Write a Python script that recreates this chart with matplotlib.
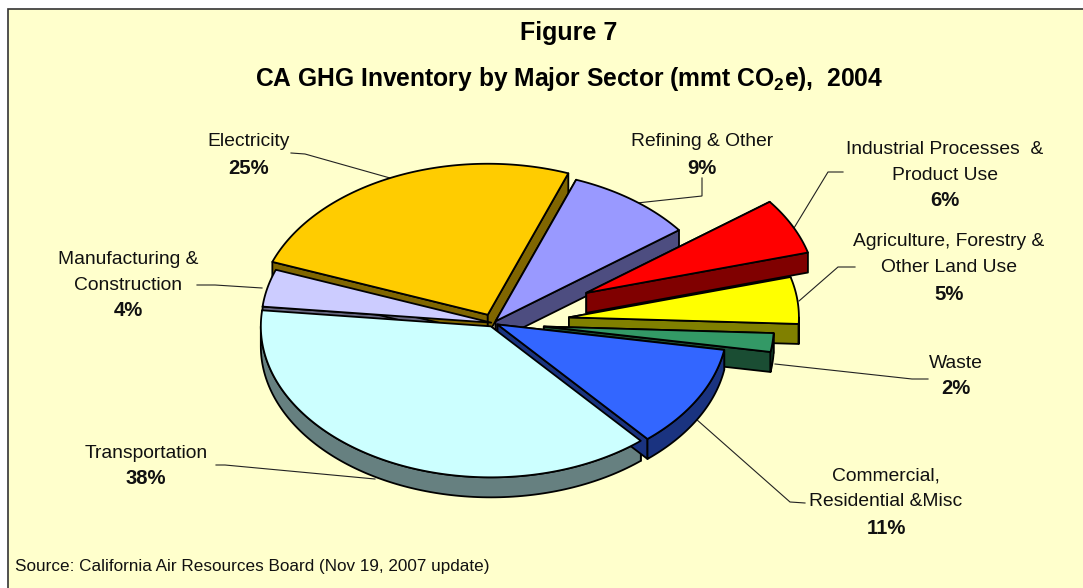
import numpy as np
import matplotlib
matplotlib.use("Agg")
import matplotlib.pyplot as plt
from matplotlib.patches import Polygon, Rectangle

plt.rcParams['font.family'] = ['Liberation Sans', 'DejaVu Sans']
plt.rcParams['mathtext.fontset'] = 'custom'
plt.rcParams['mathtext.rm'] = 'Liberation Sans'
plt.rcParams['mathtext.bf'] = 'Liberation Sans:bold'

# data (clockwise from the start angle)
sectors = ["Refining & Other", "Industrial Processes  &\nProduct Use", "Agriculture, Forestry &\nOther Land Use",
           "Waste", "Commercial,\nResidential &Misc", "Transportation", "Manufacturing &\nConstruction", "Electricity"]
shares = [9, 6, 5, 2, 11, 38, 4, 25]

# style
explode = [0.015, 0.45, 0.33, 0.22, 0.02, 0.025, 0.01, 0.06]
top_colors = ["#9999FF", "#FF0000", "#FFFF00", "#339966", "#3366FF", "#CCFFFF", "#CCCCFF", "#FFCC00"]
side_colors = ["#4D4D80", "#800000", "#808000", "#1A4D33", "#1A3380", "#668080", "#666680", "#806600"]
draw_order = [0, 5, 6, 7, 1, 2, 3, 4]
start_angle = 20.5
cx, cy, rx, ry, depth = 493.5, 323, 230, 151, 20
bg = "#FFFFCC"

# label layout: centre x, y of first line
label_pos = {0: (702, 142), 1: (945, 149), 2: (949, 242), 3: (956, 363),
             4: (886, 476), 5: (146, 453), 6: (128, 259), 7: (249, 142)}
leaders = {0: ([702, 702, 637], [178, 196, 203]),
           1: ([843, 828, 794], [172, 172, 228]),
           2: ([855, 838, 799], [267, 267, 301]),
           3: ([928, 912, 775], [379, 379, 364]),
           4: ([805, 790, 696], [503, 502, 419]),
           5: ([216, 225, 375], [465, 465, 479]),
           6: ([197, 215, 262], [285, 285, 288]),
           7: ([291, 305, 390], [153, 154, 178])}

fig = plt.figure(figsize=(10.83, 5.88), dpi=100, facecolor="white")
ax = fig.add_axes([0, 0, 1, 1])
ax.set_xlim(0, 1083)
ax.set_ylim(588, 0)
ax.axis("off")
ax.add_patch(Rectangle((7.5, 8.5), 1100, 600, fc=bg, ec="#333333", lw=1.2, zorder=0))

# leaders
for k, (xs, ys) in leaders.items():
    ax.plot(xs, ys, color="#222222", lw=0.8, zorder=1, solid_joinstyle="miter")

# slices: every side first, every top afterwards, so neighbouring tops hide the sides
cum = np.concatenate([[0], np.cumsum(shares)]) / sum(shares) * 360 + start_angle
z_side, z_top = 2, 40
for i in draw_order:
    a0, a1 = cum[i], cum[i + 1]
    mid = np.radians((a0 + a1) / 2)
    ox = cx + explode[i] * rx * np.sin(mid)
    oy = cy - explode[i] * ry * np.cos(mid)
    th = np.radians(np.linspace(a0, a1, 120))
    px = ox + rx * np.sin(th)
    py = oy - ry * np.cos(th)
    for x_e, y_e in ((px[0], py[0]), (px[-1], py[-1])):
        wall = [(ox, oy), (x_e, y_e), (x_e, y_e + depth), (ox, oy + depth)]
        ax.add_patch(Polygon(wall, closed=True, fc=side_colors[i], ec="black", lw=1.3, zorder=z_side, joinstyle="round"))
    # outer rim: only the part of the arc that faces the viewer
    lo, hi = max(a0, 90), min(a1, 270)
    if hi > lo:
        tf = np.radians(np.linspace(lo, hi, 120))
        fx = ox + rx * np.sin(tf)
        fy = oy - ry * np.cos(tf)
        rim = np.column_stack([np.r_[fx, fx[::-1]], np.r_[fy, fy[::-1] + depth]])
        ax.add_patch(Polygon(rim, closed=True, fc=side_colors[i], ec="black", lw=1.3, zorder=z_side + 1, joinstyle="round"))
    top = np.column_stack([np.r_[ox, px], np.r_[oy, py]])
    ax.add_patch(Polygon(top, closed=True, fc=top_colors[i], ec="black", lw=1.3, zorder=z_top, joinstyle="round"))
    z_side += 2
    z_top += 1

# labels
LFS = 13.9
for i, name in enumerate(sectors):
    x, y = label_pos[i]
    lines = name.split("\n")
    for j, ln in enumerate(lines):
        ax.text(x, y + j * 26, ln, ha="center", va="center", fontsize=LFS, color="#111111", zorder=60)
    ax.text(x, y + len(lines) * 26, f"{shares[i]}%", ha="center", va="center", fontsize=14.6,
            fontweight="bold", color="#111111", zorder=60)

ax.text(569, 33, "Figure 7", ha="center", va="center", fontsize=18, fontweight="bold", color="black", zorder=60)
ax.text(569, 79, r"CA GHG Inventory by Major Sector (mmt CO$_{\mathbf{2}}$e),  2004", ha="center", va="center",
        fontsize=17.7, fontweight="bold", color="black", zorder=60)
ax.text(15, 567, "Source: California Air Resources Board (Nov 19, 2007 update)", ha="left", va="center",
        fontsize=12.35, color="#111111", zorder=60)

fig.savefig("out.png", dpi=100, facecolor="white")
